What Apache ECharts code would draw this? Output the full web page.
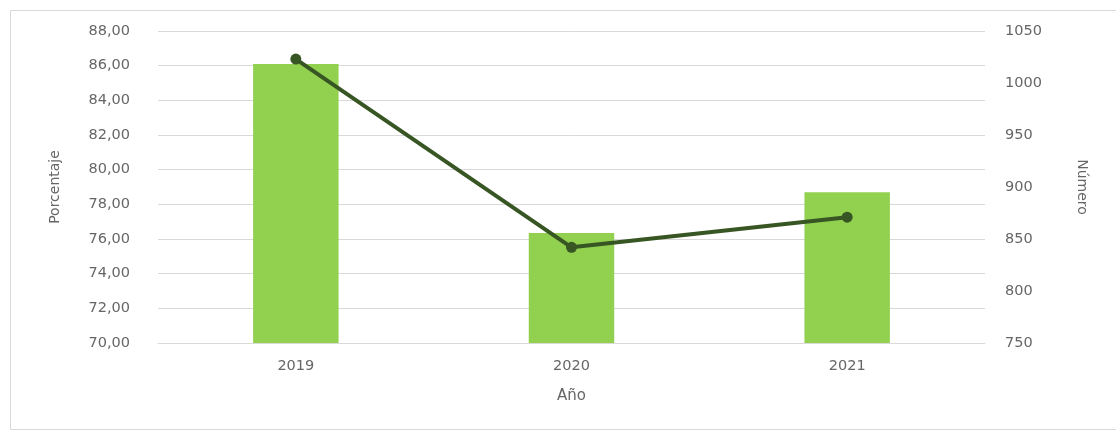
<!DOCTYPE html>
<html>
<head>
<meta charset="utf-8">
<script src="https://cdn.jsdelivr.net/npm/echarts@6/dist/echarts.min.js"></script>
<style>
html,body{margin:0;padding:0;background:#fff;}
#chart{width:1116px;height:430px;}
</style>
</head>
<body>
<div id="chart"></div>
<script>
const categories = ['2019', '2020', '2021'];
const porcentaje = [86.1, 76.35, 78.7];
const numero = [1023, 842, 871];

const FONT = 'DejaVu Sans';
const TXT = '#666666';
const chart = echarts.init(document.getElementById('chart'), null, {renderer: 'canvas'});
chart.setOption({
  animation: false,
  backgroundColor: '#fff',
  graphic: [{
    type: 'rect', left: 8, top: 8, silent: true, z: -10,
    shape: {width: 1120, height: 419},
    style: {fill: 'none', stroke: '#d9d9d9', lineWidth: 1}
  }],
  grid: {left: 158, right: 131, top: 31, bottom: 87},
  xAxis: {
    type: 'category',
    data: categories,
    name: 'Año',
    nameLocation: 'middle',
    nameGap: 46,
    nameTextStyle: {color: TXT, fontSize: 15, fontFamily: FONT},
    axisLine: {show: true, lineStyle: {color: '#d9d9d9', width: 1}},
    axisTick: {show: false},
    axisLabel: {color: TXT, fontSize: 14.5, fontFamily: FONT, margin: 16}
  },
  yAxis: [{
    type: 'value',
    min: 70, max: 88, interval: 2,
    name: 'Porcentaje',
    nameLocation: 'middle',
    nameGap: 96,
    nameTextStyle: {color: TXT, fontSize: 14, fontFamily: FONT},
    axisLine: {show: false},
    axisTick: {show: false},
    splitLine: {lineStyle: {color: '#d9d9d9', width: 1}},
    axisLabel: {
      color: TXT, fontSize: 14.5, fontFamily: FONT, margin: 28,
      formatter: v => v.toFixed(2).replace('.', ',')
    }
  }, {
    type: 'value',
    position: 'right',
    min: 750, max: 1050, interval: 50,
    name: 'Número',
    nameLocation: 'middle',
    nameRotate: -90,
    nameGap: 90,
    nameTextStyle: {color: TXT, fontSize: 14, fontFamily: FONT},
    axisLine: {show: false},
    axisTick: {show: false},
    splitLine: {show: false},
    axisLabel: {
      color: TXT, fontSize: 14.5, fontFamily: FONT, margin: 20,
      formatter: v => String(v)
    }
  }],
  series: [{
    type: 'bar',
    data: porcentaje,
    yAxisIndex: 0,
    barWidth: '31%',
    itemStyle: {color: '#92D050'}
  }, {
    type: 'line',
    data: numero,
    yAxisIndex: 1,
    symbol: 'circle',
    symbolSize: 11,
    lineStyle: {color: '#375623', width: 4},
    itemStyle: {color: '#375623'}
  }]
});
</script>
</body>
</html>
